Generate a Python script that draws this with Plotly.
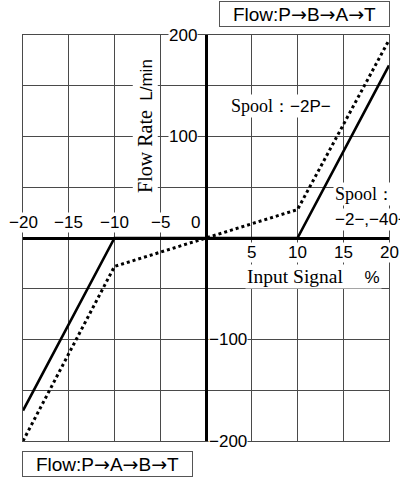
import plotly.graph_objects as go

# Input signal (%) and flow rate (L/min) for the two spool types
signal_2p = [-20, -10, 0, 10, 20]
flow_2p = [-200, -28, 0, 28, 195]

signal_2_40 = [-20, -10, 10, 20]
flow_2_40 = [-170, 0, 0, 170]

x_tick_vals = [-20, -15, -10, -5, 0, 5, 10, 15, 20]
x_tick_text = ["−20", "−15", "−10", "−5", "0", "5", "10", "15", "20"]
y_tick_vals = [200, 100, -100, -200]
y_tick_text = ["200", "100", "−100", "−200"]

SANS = "Liberation Sans, Arial, sans-serif"
SERIF = "Liberation Serif, Times New Roman, serif"
ARROWFONT = "DejaVu Sans"
GRID = "#4a4a4a"


def serif(t, size):
    return f'<span style="font-family:{SERIF};font-size:{size}px">{t}</span>'


def flow_label(path):
    arrow = f'<span style="font-family:{ARROWFONT};font-size:19px">→</span>'
    return "Flow:" + arrow.join(path)


fig = go.Figure()
fig.add_trace(go.Scatter(
    x=signal_2_40, y=flow_2_40, mode="lines",
    line=dict(color="black", width=2.6), hoverinfo="skip"))
fig.add_trace(go.Scatter(
    x=signal_2p, y=flow_2p, mode="lines",
    line=dict(color="black", width=3, dash="dot"), hoverinfo="skip"))

ann = []
# x tick labels: negative side above the axis, positive side below
for v, t in zip(x_tick_vals, x_tick_text):
    if v < 0:
        ann.append(dict(x=v, y=15, text=t, xanchor="center", yanchor="middle"))
    elif v == 0:
        ann.append(dict(x=0, y=15, text=t, xanchor="right", yanchor="middle", xshift=-5))
    else:
        ann.append(dict(x=v, y=-14, text=t, xanchor="center", yanchor="middle"))
# y tick labels: positive to the left of the axis, negative to the right
for v, t in zip(y_tick_vals, y_tick_text):
    if v > 0:
        ann.append(dict(x=0, y=v, text=t, xanchor="right", yanchor="middle", xshift=-8))
    else:
        ann.append(dict(x=0, y=v, text=t, xanchor="left", yanchor="middle", xshift=2))

for a in ann:
    a.update(xref="x", yref="y", showarrow=False, bgcolor="white", borderpad=0,
             font=dict(family=SANS, size=17, color="black"))

texts = [
    dict(x=11.75, y=-38, xanchor="center", yanchor="middle",
         text=serif("Input Signal", 19.5) + "　 %"),
    dict(x=-6.6, y=110, xanchor="center", yanchor="middle", textangle=-90,
         text=serif("Flow Rate", 20) + "  L/min"),
    dict(x=8.25, y=130, xanchor="center", yanchor="middle",
         text=serif("Spool", 18) + "：−2P−"),
    dict(x=13.9, y=43, xanchor="left", yanchor="middle",
         text=serif("Spool", 18) + "："),
    dict(x=13.9, y=18, xanchor="left", yanchor="middle", text="−2−,−40−"),
]
for a in texts:
    a.update(xref="x", yref="y", showarrow=False, bgcolor="white", borderpad=1,
             font=dict(family=SANS, size=17, color="black"))
    ann.append(a)

# flow direction boxes above and below the plot area
for x, y, path in [(0.769, 1.0517, ["P", "B", "A", "T"]),
                   (0.232, -0.0559, ["P", "A", "B", "T"])]:
    ann.append(dict(x=x, y=y, xref="paper", yref="paper", text=flow_label(path),
                    showarrow=False, xanchor="center", yanchor="middle",
                    bgcolor="white", bordercolor="#555", borderwidth=1, borderpad=3,
                    width=163, height=18,
                    font=dict(family=SANS, size=19, color="black")))

axis_common = dict(showgrid=True, gridcolor=GRID, gridwidth=1,
                   zeroline=True, zerolinecolor="black", zerolinewidth=3,
                   showticklabels=False, ticks="", showline=True,
                   linecolor=GRID, linewidth=1, mirror=True)

fig.update_layout(
    width=400, height=481,
    margin=dict(l=23, r=11, t=35, b=40),
    paper_bgcolor="white", plot_bgcolor="white",
    showlegend=False,
    xaxis=dict(range=[-20, 20], tick0=0, dtick=5, **axis_common),
    yaxis=dict(range=[-200, 200], tick0=0, dtick=50, **axis_common),
    annotations=ann,
)

fig.write_html("out.html")
